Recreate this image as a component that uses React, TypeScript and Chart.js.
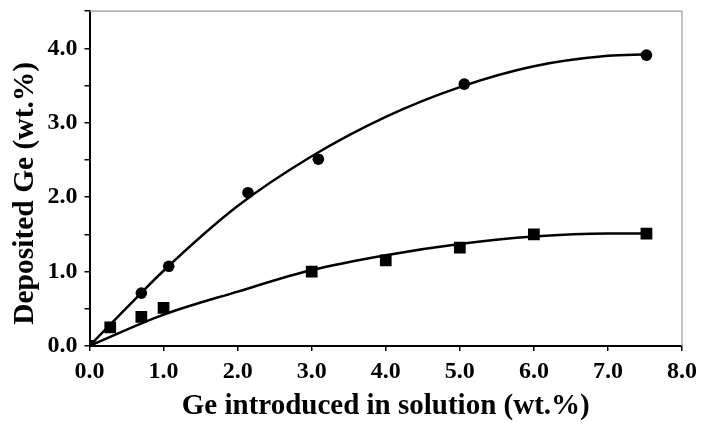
import React, { useEffect, useRef } from "react";
import { Chart, registerables } from "chart.js";

Chart.register(...registerables);

// Measured points: circles
const circleX = [0, 0.7, 1.07, 2.14, 3.09, 5.06, 7.52];
const circleY = [0, 0.71, 1.07, 2.06, 2.51, 3.52, 3.91];
// Measured points: squares
const squareX = [0, 0.28, 0.7, 1.0, 3.0, 4.0, 5.0, 6.0, 7.52];
const squareY = [0, 0.25, 0.39, 0.51, 1.0, 1.15, 1.32, 1.5, 1.51];
// Fitted curves
const upperCurveX = [0, 0.5, 1, 2, 3, 4, 5, 6, 7, 7.52];
const upperCurveY = [0, 0.51, 1.01, 1.88, 2.55, 3.08, 3.48, 3.76, 3.9, 3.92];
const lowerCurveX = [0, 1, 2, 3, 4, 5, 6, 7, 7.52];
const lowerCurveY = [0, 0.42, 0.73, 1.02, 1.22, 1.37, 1.47, 1.51, 1.51];

const xTitle = "Ge introduced in solution (wt.%)";
const yTitle = "Deposited Ge (wt.%)    ";

const toXY = (xs: number[], ys: number[]) => xs.map((x, i) => ({ x, y: ys[i] }));

const FONT = "'Liberation Serif', 'Times New Roman', serif";

const framePlugin = {
  id: "frame",
  afterDraw(chart: any) {
    const { ctx, chartArea } = chart;
    ctx.save();
    ctx.strokeStyle = "#9a9a9a";
    ctx.lineWidth = 1.2;
    ctx.beginPath();
    ctx.moveTo(chartArea.left, chartArea.top);
    ctx.lineTo(chartArea.right, chartArea.top);
    ctx.lineTo(chartArea.right, chartArea.bottom);
    ctx.stroke();
    ctx.restore();
  },
};

export default function App() {
  const ref = useRef<HTMLCanvasElement>(null);
  useEffect(() => {
    if (!ref.current) return;
    const chart = new Chart(ref.current, {
      type: "scatter",
      data: {
        datasets: [
          {
            type: "line",
            data: toXY(upperCurveX, upperCurveY),
            borderColor: "#000",
            borderWidth: 2.5,
            pointRadius: 0,
            cubicInterpolationMode: "monotone",
            order: 2,
          },
          {
            type: "line",
            data: toXY(lowerCurveX, lowerCurveY),
            borderColor: "#000",
            borderWidth: 2.5,
            pointRadius: 0,
            cubicInterpolationMode: "monotone",
            order: 2,
          },
          {
            data: toXY(circleX, circleY),
            pointStyle: "circle",
            pointRadius: 5.8,
            backgroundColor: "#000",
            borderColor: "#000",
            borderWidth: 0,
            order: 1,
          },
          {
            data: toXY(squareX, squareY),
            pointStyle: "rect",
            pointRadius: 8.3,
            backgroundColor: "#000",
            borderColor: "#000",
            borderWidth: 0,
            order: 1,
          },
        ],
      } as any,
      options: {
        animation: false,
        responsive: true,
        maintainAspectRatio: false,
        layout: { padding: { top: 0, right: 20, left: 2, bottom: 2.5 } },
        plugins: { legend: { display: false }, tooltip: { enabled: false } },
        scales: {
          x: {
            type: "linear",
            min: 0,
            max: 8,
            border: { color: "#000", width: 2 },
            grid: { drawOnChartArea: false, drawTicks: true, tickLength: 5, color: "#000", lineWidth: 1.5 },
            ticks: {
              stepSize: 1,
              color: "#000",
              padding: 5,
              font: { family: FONT, size: 24, weight: "bold", lineHeight: 1.358 },
              callback: (v: any) => Number(v).toFixed(1),
            },
            title: {
              display: true,
              text: xTitle,
              color: "#000",
              font: { family: FONT, size: 29, weight: "bold", lineHeight: 0.931 },
              padding: { top: 0, bottom: 0 },
            },
          },
          y: {
            type: "linear",
            min: 0,
            max: 4.5,
            border: { color: "#000", width: 2 },
            grid: { drawOnChartArea: false, drawTicks: true, tickLength: 5, color: "#000", lineWidth: 1.5 },
            ticks: {
              stepSize: 0.5,
              color: "#000",
              padding: 7,
              font: { family: FONT, size: 24, weight: "bold", lineHeight: 0.35 },
              callback: (v: any) => (Number.isInteger(Number(v)) && Number(v) <= 4 ? Number(v).toFixed(1) : ""),
            },
            title: {
              display: true,
              text: yTitle,
              color: "#000",
              font: { family: FONT, size: 29.5, weight: "bold", lineHeight: 1.0 },
              padding: { top: 9, bottom: 0 },
            },
          },
        },
      } as any,
      plugins: [framePlugin],
    });
    return () => chart.destroy();
  }, []);
  return (
    <div style={{ position: "fixed", left: 0, top: 0, width: 702, height: 423, background: "#fff" }}>
      <canvas ref={ref} />
    </div>
  );
}
